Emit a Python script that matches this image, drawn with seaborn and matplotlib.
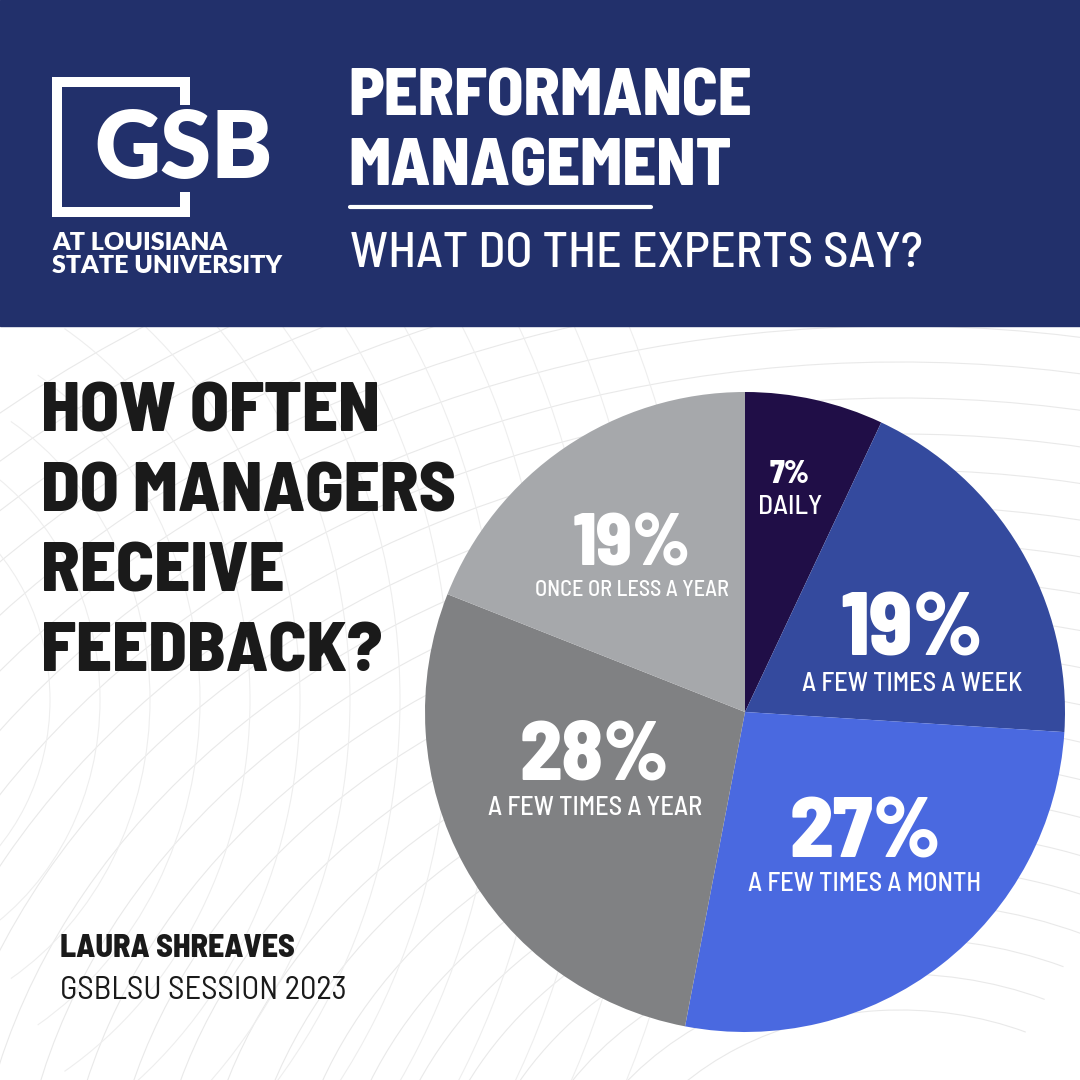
import matplotlib.pyplot as plt
import matplotlib
import numpy as np
import seaborn as sns
from matplotlib.patches import Rectangle, Arc

sns.set_theme(style="white")
matplotlib.rcParams['font.family'] = ['Barlow Semi Condensed', 'DejaVu Sans']

# data
categories = ["DAILY", "A FEW TIMES A WEEK", "A FEW TIMES A MONTH",
              "A FEW TIMES A YEAR", "ONCE OR LESS A YEAR"]
shares = [7, 19, 27, 28, 19]
colors = ["#200e47", "#344a9e", "#4a69e0", "#808183", "#a6a8ab"]

# label placement: x centre, baseline of % and of category (pixels)
label_x = [790, 912, 865, 595, 632]
pct_base = [483, 655, 858, 780, 565]
cat_base = [514, 691, 891, 815, 596]
pct_size = [23, 64, 62, 60, 53]
cat_size = [20, 19, 19, 19, 16]

navy = "#22306b"
ink = "#1a1a1a"
SEMI = ['Barlow Semi Condensed', 'DejaVu Sans']
LOGO = ['Lato', 'DejaVu Sans']

fig = plt.figure(figsize=(10.8, 10.8), dpi=100)
fig.patch.set_facecolor("white")


def pixel_axes(zorder):
    a = fig.add_axes([0, 0, 1, 1])
    a.set_xlim(0, 1080)
    a.set_ylim(1080, 0)
    a.axis("off")
    a.set_zorder(zorder)
    a.patch.set_alpha(0)
    return a


bg = pixel_axes(0)

# faint decorative curves
for r in np.arange(300, 1400, 45):
    bg.add_patch(Arc((900, 1250), 2 * r, 1.6 * r, theta1=180, theta2=300,
                     color="#e9e9e9", lw=0.8))
for r in np.arange(200, 900, 50):
    bg.add_patch(Arc((-150, 700), 2 * r, 2.2 * r, theta1=-60, theta2=60,
                     color="#eeeeee", lw=0.8))

# header band
bg.add_patch(Rectangle((0, 0), 1080, 326, color=navy, zorder=2))

# pie
cx, cy, r = 745, 712, 320
ax = fig.add_axes([(cx - r) / 1080, (1080 - cy - r) / 1080, 2 * r / 1080, 2 * r / 1080])
ax.set_zorder(1)
ax.pie(shares, colors=colors, startangle=90, counterclock=False,
       wedgeprops=dict(linewidth=0))
ax.set_xlim(-1, 1)
ax.set_ylim(-1, 1)
ax.set_aspect("equal")
ax.axis("off")

top = pixel_axes(2)

# logo bracket
w = 10
for (x, y, ww, hh) in [(52, 77, 138, w), (52, 207, 138, w), (52, 77, w, 140),
                       (180, 77, w, 28), (180, 192, w, 25)]:
    top.add_patch(Rectangle((x, y), ww, hh, color="white", lw=0))
top.text(184, 178, "GSB", color="white", fontsize=66, fontweight="heavy",
         family=LOGO, ha="center", va="baseline")
top.text(52, 250, "AT LOUISIANA", color="white", fontsize=18, fontweight="heavy",
         family=LOGO, ha="left", va="baseline")
top.text(52, 273, "STATE UNIVERSITY", color="white", fontsize=18, fontweight="heavy",
         family=LOGO, ha="left", va="baseline")

# header titles
top.text(348, 115, "PERFORMANCE", color="white", fontsize=48, fontweight="heavy",
         family=SEMI, ha="left", va="baseline")
top.text(348, 185, "MANAGEMENT", color="white", fontsize=48, fontweight="heavy",
         family=SEMI, ha="left", va="baseline")
top.plot([350, 651], [207, 207], color="white", lw=3)
top.text(350, 267, "WHAT DO THE EXPERTS SAY?", color="white", fontsize=36,
         fontweight="medium", family=SEMI, ha="left", va="baseline")

# question
for i, line in enumerate(["HOW OFTEN", "DO MANAGERS", "RECEIVE", "FEEDBACK?"]):
    top.text(41, 432 + 80 * i, line, color=ink, fontsize=51, fontweight="heavy",
             family=SEMI, ha="left", va="baseline")

# credits
top.text(60, 957, "LAURA SHREAVES", color=ink, fontsize=23, fontweight="heavy",
         family=SEMI, ha="left", va="baseline")
top.text(60, 999, "GSBLSU SESSION 2023", color=ink, fontsize=23.5,
         fontweight="normal", family=SEMI, ha="left", va="baseline")

# slice labels
for lx, pb, cb, v, cat, ps, cs in zip(label_x, pct_base, cat_base, shares,
                                      categories, pct_size, cat_size):
    top.text(lx, pb, f"{v}%", color="white", fontsize=ps, fontweight="heavy",
             family=SEMI, ha="center", va="baseline")
    top.text(lx, cb, cat, color="white", fontsize=cs, fontweight="medium",
             family=SEMI, ha="center", va="baseline")

fig.savefig("out.png", dpi=100)
